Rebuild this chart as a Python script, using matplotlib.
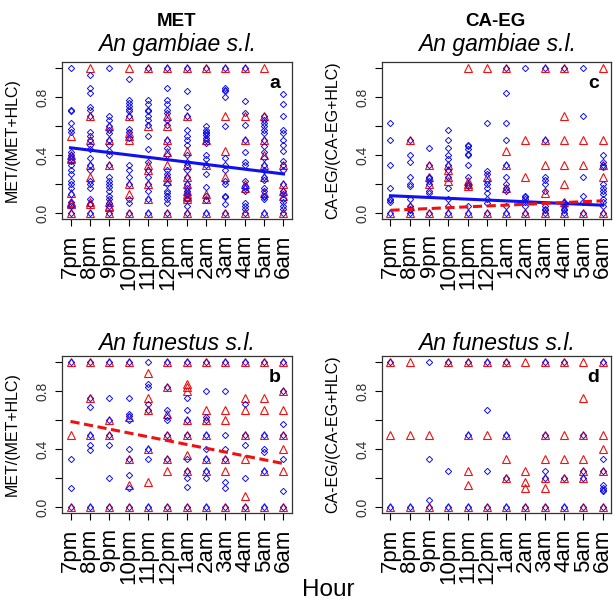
import numpy as np
import matplotlib
matplotlib.use("Agg")
from matplotlib import pyplot as plt

plt.rcParams["font.family"] = "Liberation Sans"

hours = ['7pm', '8pm', '9pm', '10pm', '11pm', '12pm', '1am', '2am', '3am', '4am', '5am', '6am']

# MET, An gambiae (panel a)
gam_met_blue = [
    [1.0, 0.71, 0.70, 0.62, 0.58, 0.56, 0.42, 0.40, 0.38, 0.36, 0.33, 0.30, 0.27, 0.22, 0.20, 0.17, 0.13, 0.08, 0.05, 0.0],
    [0.95, 0.86, 0.83, 0.73, 0.71, 0.67, 0.56, 0.53, 0.50, 0.47, 0.44, 0.38, 0.33, 0.30, 0.22, 0.20, 0.17, 0.10, 0.06, 0.0],
    [1.0, 0.67, 0.64, 0.60, 0.57, 0.55, 0.50, 0.47, 0.43, 0.40, 0.33, 0.25, 0.22, 0.20, 0.18, 0.15, 0.12, 0.10, 0.07, 0.05, 0.0],
    [0.92, 0.78, 0.76, 0.74, 0.72, 0.70, 0.67, 0.58, 0.56, 0.52, 0.33, 0.30, 0.25, 0.20, 0.10, 0.07, 0.0],
    [1.0, 0.78, 0.75, 0.71, 0.70, 0.67, 0.64, 0.61, 0.53, 0.44, 0.35, 0.30, 0.25, 0.20, 0.15, 0.10, 0.0],
    [1.0, 0.86, 0.78, 0.75, 0.71, 0.69, 0.64, 0.61, 0.50, 0.45, 0.40, 0.30, 0.27, 0.25, 0.20, 0.15, 0.14, 0.12, 0.10, 0.07, 0.0],
    [1.0, 0.84, 0.73, 0.67, 0.57, 0.53, 0.50, 0.47, 0.40, 0.35, 0.33, 0.30, 0.25, 0.20, 0.17, 0.15, 0.13, 0.10, 0.05, 0.0],
    [1.0, 0.60, 0.57, 0.56, 0.55, 0.54, 0.52, 0.50, 0.48, 0.40, 0.37, 0.33, 0.27, 0.18, 0.12, 0.09, 0.0],
    [1.0, 0.86, 0.85, 0.84, 0.80, 0.60, 0.38, 0.33, 0.30, 0.22, 0.20, 0.12, 0.11, 0.06, 0.0],
    [1.0, 0.77, 0.69, 0.61, 0.50, 0.42, 0.35, 0.33, 0.22, 0.19, 0.17, 0.15, 0.07, 0.05, 0.03, 0.0],
    [0.67, 0.64, 0.62, 0.60, 0.57, 0.55, 0.50, 0.46, 0.42, 0.38, 0.33, 0.30, 0.25, 0.23, 0.17, 0.15, 0.12, 0.11, 0.10, 0.0],
    [0.82, 0.75, 0.67, 0.57, 0.55, 0.50, 0.47, 0.43, 0.36, 0.33, 0.30, 0.20, 0.15, 0.13, 0.10, 0.08, 0.05, 0.03, 0.0],
]
gam_met_red = [
    [0.53, 0.40, 0.38, 0.37, 0.14, 0.08, 0.07, 0.06, 0.0],
    [1.0, 0.67, 0.50, 0.33, 0.25, 0.08, 0.06, 0.0],
    [0.60, 0.50, 0.33, 0.08, 0.05, 0.04, 0.0],
    [1.0, 0.67, 0.55, 0.53, 0.50, 0.20, 0.13, 0.0],
    [1.0, 0.60, 0.33, 0.30, 0.20, 0.10, 0.0],
    [1.0, 0.67, 0.60, 0.50, 0.42, 0.33, 0.25, 0.22, 0.0],
    [1.0, 0.67, 0.43, 0.33, 0.25, 0.20, 0.15, 0.13, 0.12, 0.11, 0.10, 0.0],
    [1.0, 0.50, 0.33, 0.13, 0.10, 0.0],
    [1.0, 0.67, 0.43, 0.25, 0.0],
    [1.0, 0.67, 0.50, 0.20, 0.17, 0.0],
    [1.0, 0.67, 0.50, 0.40, 0.33, 0.25, 0.14, 0.0],
    [0.33, 0.20, 0.15, 0.12, 0.0],
]

# MET, An funestus (panel b)
fun_met_blue = [
    [1.0, 0.33, 0.13, 0.0],
    [1.0, 0.75, 0.69, 0.50, 0.43, 0.39, 0.0],
    [1.0, 0.75, 0.60, 0.50, 0.43, 0.20, 0.0],
    [1.0, 0.75, 0.64, 0.63, 0.60, 0.40, 0.33, 0.22, 0.13, 0.0],
    [1.0, 0.85, 0.83, 0.71, 0.67, 0.40, 0.33, 0.0],
    [1.0, 0.83, 0.67, 0.62, 0.60, 0.50, 0.33, 0.0],
    [1.0, 0.75, 0.67, 0.60, 0.50, 0.33, 0.25, 0.20, 0.14, 0.0],
    [1.0, 0.80, 0.62, 0.60, 0.50, 0.40, 0.33, 0.25, 0.20, 0.0],
    [1.0, 0.80, 0.50, 0.40, 0.33, 0.17, 0.13, 0.0],
    [1.0, 0.71, 0.50, 0.43, 0.20, 0.0],
    [1.0, 0.50, 0.40, 0.38, 0.25, 0.0],
    [1.0, 0.80, 0.57, 0.50, 0.33, 0.11, 0.0],
]
fun_met_red = [
    [1.0, 0.50, 0.0],
    [1.0, 0.75, 0.50, 0.0],
    [1.0, 0.60, 0.50, 0.0],
    [1.0, 0.62, 0.33, 0.15, 0.0],
    [0.92, 0.75, 0.67, 0.40, 0.17, 0.0],
    [1.0, 0.83, 0.64, 0.50, 0.33, 0.25, 0.0],
    [1.0, 0.85, 0.83, 0.80, 0.60, 0.50, 0.36, 0.25, 0.0],
    [1.0, 0.67, 0.60, 0.50, 0.33, 0.25, 0.0],
    [1.0, 0.67, 0.60, 0.33, 0.25, 0.0],
    [1.0, 0.75, 0.67, 0.50, 0.33, 0.08, 0.0],
    [1.0, 0.75, 0.67, 0.50, 0.25, 0.0],
    [1.0, 0.80, 0.67, 0.50, 0.40, 0.25, 0.0],
]

# CA-EG, An gambiae (panel c)
gam_ca_blue = [
    [0.62, 0.50, 0.33, 0.17, 0.10, 0.09, 0.08, 0.0],
    [0.50, 0.40, 0.35, 0.25, 0.20, 0.19, 0.10, 0.05, 0.03, 0.02, 0.0],
    [0.45, 0.33, 0.25, 0.24, 0.22, 0.20, 0.15, 0.14, 0.0],
    [0.57, 0.50, 0.45, 0.40, 0.37, 0.33, 0.30, 0.25, 0.17, 0.10, 0.05, 0.0],
    [0.47, 0.46, 0.44, 0.41, 0.40, 0.33, 0.25, 0.20, 0.19, 0.05, 0.0],
    [0.62, 0.29, 0.27, 0.22, 0.20, 0.17, 0.14, 0.10, 0.07, 0.0],
    [1.0, 0.83, 0.62, 0.50, 0.33, 0.25, 0.20, 0.17, 0.15, 0.05, 0.0],
    [1.0, 0.12, 0.11, 0.10, 0.08, 0.05, 0.0],
    [1.0, 0.50, 0.25, 0.23, 0.20, 0.15, 0.05, 0.03, 0.02, 0.0],
    [1.0, 0.08, 0.07, 0.05, 0.03, 0.02, 0.0],
    [1.0, 0.67, 0.25, 0.12, 0.08, 0.0],
    [0.40, 0.35, 0.33, 0.32, 0.20, 0.17, 0.15, 0.13, 0.10, 0.08, 0.05, 0.0],
]
gam_ca_red = [
    [0.0],
    [0.50, 0.05, 0.0],
    [0.33, 0.25, 0.20, 0.0],
    [0.33, 0.30, 0.25, 0.22, 0.0],
    [1.0, 0.22, 0.20, 0.19, 0.0],
    [1.0, 0.25, 0.0],
    [1.0, 0.43, 0.33, 0.17, 0.0],
    [0.50, 0.25, 0.0],
    [1.0, 0.50, 0.33, 0.14, 0.0],
    [1.0, 0.67, 0.50, 0.33, 0.20, 0.08, 0.0],
    [0.50, 0.33, 0.0],
    [1.0, 0.50, 0.33, 0.25, 0.0],
]

# CA-EG, An funestus (panel d)
fun_ca_blue = [
    [1.0, 0.0],
    [0.0],
    [1.0, 0.33, 0.05, 0.0],
    [1.0, 0.25, 0.0],
    [1.0, 0.50, 0.0],
    [1.0, 0.67, 0.25, 0.0],
    [1.0, 0.50, 0.20, 0.0],
    [0.0],
    [1.0, 0.50, 0.25, 0.20, 0.0],
    [1.0, 0.20, 0.0],
    [0.50, 0.25, 0.20, 0.0],
    [1.0, 0.33, 0.25, 0.15, 0.13, 0.12, 0.11, 0.0],
]
fun_ca_red = [
    [1.0, 0.50, 0.0],
    [1.0, 0.50, 0.0],
    [0.50, 0.0],
    [1.0, 0.0],
    [1.0, 0.50, 0.25, 0.15, 0.0],
    [1.0, 0.50, 0.0],
    [1.0, 0.50, 0.33, 0.20, 0.0],
    [1.0, 0.25, 0.17, 0.13, 0.0],
    [1.0, 0.50, 0.33, 0.20, 0.13, 0.0],
    [1.0, 0.50, 0.33, 0.20, 0.0],
    [1.0, 0.75, 0.50, 0.33, 0.25, 0.20, 0.0],
    [1.0, 0.50, 0.40, 0.25, 0.0],
]

# fitted trend lines (value at 7pm and at 6am)
trend_a_blue = [0.45, 0.27]
trend_b_red = [0.59, 0.30]
trend_c_blue = [0.12, 0.055]
trend_c_red = [0.02, 0.085]

BLUE = '#1010f0'
RED = '#f01010'

fig = plt.figure(figsize=(6.14, 6.05), dpi=100)

W, H = 614.0, 605.0
def axes_px(l, t, r, b):
    return fig.add_axes([l / W, 1 - b / H, (r - l) / W, (b - t) / H])

ax_a = axes_px(62, 62, 292, 219)
ax_c = axes_px(382, 62, 611, 219)
ax_b = axes_px(62, 356, 292, 513)
ax_d = axes_px(382, 356, 611, 513)

panels = [
    (ax_a, gam_met_blue, gam_met_red, 'a', 'MET/(MET+HLC)'),
    (ax_b, fun_met_blue, fun_met_red, 'b', 'MET/(MET+HLC)'),
    (ax_c, gam_ca_blue, gam_ca_red, 'c', 'CA-EG/(CA-EG+HLC)'),
    (ax_d, fun_ca_blue, fun_ca_red, 'd', 'CA-EG/(CA-EG+HLC)'),
]

x_idx = np.arange(1, len(hours) + 1)

for ax, blue, red, letter, ylab in panels:
    for i, vals in enumerate(red):
        ax.plot([x_idx[i]] * len(vals), vals, linestyle='none', marker='^',
                markersize=5.5, markerfacecolor='none', markeredgecolor=RED,
                markeredgewidth=0.8)
    for i, vals in enumerate(blue):
        ax.plot([x_idx[i]] * len(vals), vals, linestyle='none', marker='D',
                markersize=3.2, markerfacecolor='none', markeredgecolor=BLUE,
                markeredgewidth=0.7)
    ax.set_xlim(0.56, 12.44)
    ax.set_ylim(-0.04, 1.04)
    ax.set_xticks(x_idx)
    ax.set_xticklabels(hours, rotation=90, fontsize=16)
    ax.set_yticks([0, 0.2, 0.4, 0.6, 0.8, 1.0])
    ax.set_yticklabels(['0.0', '', '0.4', '', '0.8', ''], rotation=90,
                       va='center', fontsize=10, color='#333333')
    ax.tick_params(direction='out', length=5, width=0.8, pad=4)
    ax.tick_params(axis='x', pad=6)
    for sp in ax.spines.values():
        sp.set_linewidth(0.9)
        sp.set_color('#333333')
    ax.set_ylabel(ylab, fontsize=11.5, labelpad=11)
    ax.text(0.95, 0.86, letter, transform=ax.transAxes, ha='right', va='center',
            fontsize=14, fontweight='bold')

ax_a.plot([1, 12], trend_a_blue, color=BLUE, linewidth=2.2)
ax_b.plot([1, 12], trend_b_red, color=RED, linewidth=2.2, linestyle=(0, (3, 1.5)))
ax_c.plot([1, 12], trend_c_blue, color=BLUE, linewidth=2.2)
ax_c.plot([1, 12], trend_c_red, color=RED, linewidth=2.2, linestyle=(0, (3, 1.5)))

fig.text(177 / W, 1 - 22 / H, 'MET', ha='center', va='center', fontsize=13.5, fontweight='bold')
fig.text(495 / W, 1 - 22 / H, 'CA-EG', ha='center', va='center', fontsize=13.5, fontweight='bold')
for xc in (177, 497):
    fig.text(xc / W, 1 - 45 / H, 'An gambiae s.l.', ha='center', va='center',
             fontsize=16.5, style='italic')
    fig.text(xc / W, 1 - 343 / H, 'An funestus s.l.', ha='center', va='center',
             fontsize=16.5, style='italic')
fig.text(328 / W, 1 - 590 / H, 'Hour', ha='center', va='center', fontsize=17.5)

plt.savefig('out.png', dpi=100)
